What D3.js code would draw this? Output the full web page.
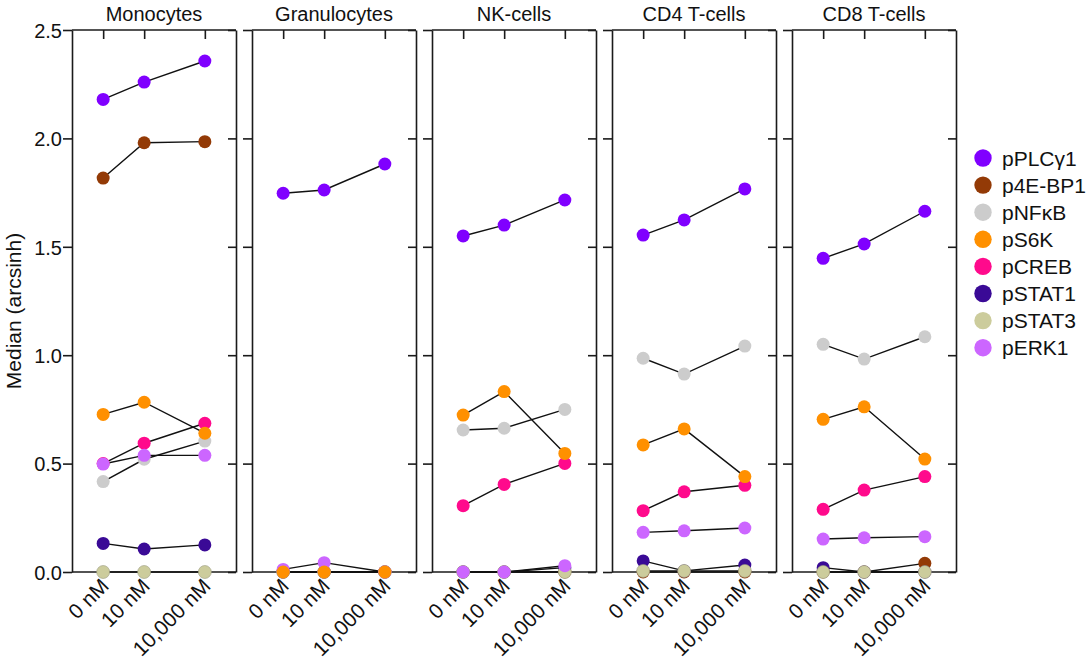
<!DOCTYPE html>
<html lang="en">
<head>
<meta charset="UTF-8">
<title>Median (arcsinh)</title>
<script src="https://d3js.org/d3.v7.min.js"></script>
<style>
  body { margin: 0; background: #fff; }
  svg text { font-family: "Liberation Sans", Arial, sans-serif; fill: #111; }
</style>
</head>
<body>
<script>
// cell types (one panel each), doses and markers
const panels = ["Monocytes", "Granulocytes", "NK-cells", "CD4 T-cells", "CD8 T-cells"];
const doses = ["0 nM", "10 nM", "10,000 nM"];
const markers = ["pPLCγ1", "p4E-BP1", "pNFκB", "pS6K", "pCREB", "pSTAT1", "pSTAT3", "pERK1"];
const colors = ["#8000ff", "#933a06", "#cccccc", "#ff9000", "#ff0a8c", "#3a0a96", "#cccc9c", "#cc66ff"];
const yTicks = [0, 0.5, 1.0, 1.5, 2.0, 2.5];

// medians per marker: one row per panel, values for 0 / 10 / 10,000 nM
const pPLCg1 = [[2.18, 2.26, 2.357], [1.747, 1.762, 1.882], [1.55, 1.60, 1.716], [1.554, 1.624, 1.767], [1.447, 1.513, 1.664]];
const p4EBP1 = [[1.817, 1.98, 1.985], [0, 0, 0], [0, 0, 0], [0, 0, 0], [0, 0, 0.04]];
const pNFkB  = [[0.417, 0.52, 0.604], [0, 0, 0], [0.655, 0.663, 0.75], [0.986, 0.913, 1.042], [1.05, 0.982, 1.085]];
const pS6K   = [[0.727, 0.783, 0.64], [0, 0, 0], [0.724, 0.832, 0.547], [0.586, 0.66, 0.44], [0.704, 0.762, 0.521]];
const pCREB  = [[0.5, 0.594, 0.686], [0, 0, 0], [0.306, 0.404, 0.501], [0.283, 0.37, 0.40], [0.289, 0.378, 0.44]];
const pSTAT1 = [[0.132, 0.106, 0.125], [0, 0, 0], [0, 0, 0.02], [0.051, 0.005, 0.032], [0.02, 0, 0]];
const pSTAT3 = [[0, 0, 0], [0, 0, 0], [0, 0, 0], [0.005, 0.005, 0.005], [0, 0, 0]];
const pERK1  = [[0.498, 0.538, 0.538], [0.012, 0.043, 0], [0, 0, 0.029], [0.183, 0.19, 0.203], [0.152, 0.158, 0.163]];
const values = [pPLCg1, p4EBP1, pNFkB, pS6K, pCREB, pSTAT1, pSTAT3, pERK1];

// pS6K sits on top of the others in the picture
const drawOrder = ["pPLCγ1", "p4E-BP1", "pNFκB", "pCREB", "pSTAT1", "pSTAT3", "pERK1", "pS6K"];

var W = 1086, H = 662;
var mTop = 30, mBottom = 572, firstLeft = 72, pw = 164, pitch = 180;
var ph = mBottom - mTop;

var svg = d3.select("body").append("svg")
    .attr("width", W).attr("height", H);

var y = d3.scaleLinear().domain([0, 2.5]).range([ph, 0]);
var x = d3.scaleOrdinal().domain(doses).range([0.19, 0.44, 0.81].map(f => f * pw));
var color = d3.scaleOrdinal().domain(markers).range(colors);

panels.forEach(function(name, p) {
    var g = svg.append("g")
        .attr("transform", "translate(" + (firstLeft + p * pitch) + "," + mTop + ")");

    g.append("text")
        .attr("x", pw / 2).attr("y", -9)
        .attr("text-anchor", "middle")
        .style("font-size", "20px")
        .text(name);

    var left = g.append("g").attr("class", "axis")
        .call(d3.axisLeft(y).tickValues(yTicks).tickSize(9).tickSizeOuter(0).tickPadding(1)
            .tickFormat(p == 0 ? d3.format(".1f") : ""));
    left.selectAll("text").style("font-size", "20px").attr("dy", "0.36em");

    g.append("g").attr("class", "axis")
        .attr("transform", "translate(" + pw + ",0)")
        .call(d3.axisLeft(y).tickValues(yTicks).tickSize(8).tickSizeOuter(0).tickFormat(""));

    // top frame with dose ticks hanging down
    var topAx = g.append("g").attr("class", "axis")
        .call(d3.axisBottom(x).tickSize(9).tickSizeOuter(0).tickFormat(""));
    topAx.select(".domain").attr("d", "M0,0H" + pw);

    var bot = g.append("g").attr("class", "axis")
        .attr("transform", "translate(0," + ph + ")")
        .call(d3.axisBottom(x).tickSize(4).tickSizeOuter(0));
    bot.select(".domain").attr("d", "M0,0H" + pw);
    bot.selectAll("text")
        .style("font-size", "21px")
        .style("text-anchor", "end")
        .attr("dx", "-0.3em").attr("dy", "0.4em")
        .attr("transform", "rotate(-45)");

    // lines first, then dots
    var series = drawOrder.map(function(m) {
        var vals = values[markers.indexOf(m)][p];
        return { marker: m, pts: doses.map((d, i) => ({ dose: d, v: vals[i] })) };
    });

    var line = d3.line().x(d => x(d.dose)).y(d => y(d.v));
    g.selectAll(".ln").data(series).enter()
        .append("path")
        .attr("class", "ln")
        .attr("d", d => line(d.pts))
        .attr("fill", "none")
        .attr("stroke", "#111")
        .attr("stroke-width", 1.4);

    var grp = g.selectAll(".dots").data(series).enter()
        .append("g").attr("class", "dots");
    grp.selectAll("circle").data(d => d.pts.map(q => ({ marker: d.marker, dose: q.dose, v: q.v })))
        .enter().append("circle")
        .attr("cx", d => x(d.dose))
        .attr("cy", d => y(d.v))
        .attr("r", 6.5)
        .attr("fill", d => color(d.marker))
        .attr("stroke", d => d.marker == "pSTAT3" ? "#9a9a80" : "none")
        .attr("stroke-width", 0.6);
});

svg.selectAll(".axis path, .axis line")
    .attr("stroke", "#1a1a1a").attr("stroke-width", 1.6);

svg.append("text")
    .attr("transform", "translate(21," + 311 + ") rotate(-90)")
    .attr("text-anchor", "middle")
    .style("font-size", "21px")
    .text("Median (arcsinh)");

var legend = svg.append("g").attr("id", "legend");
legend.selectAll("circle").data(markers).enter()
    .append("circle")
    .attr("cx", 983)
    .attr("cy", (d, i) => 158 + i * 27.1)
    .attr("r", 8.7)
    .attr("fill", d => color(d));
legend.selectAll("text").data(markers).enter()
    .append("text")
    .attr("x", 1002)
    .attr("y", (d, i) => 158 + i * 27.1)
    .attr("dy", "0.36em")
    .style("font-size", "21px")
    .text(d => d);
</script>
</body>
</html>
